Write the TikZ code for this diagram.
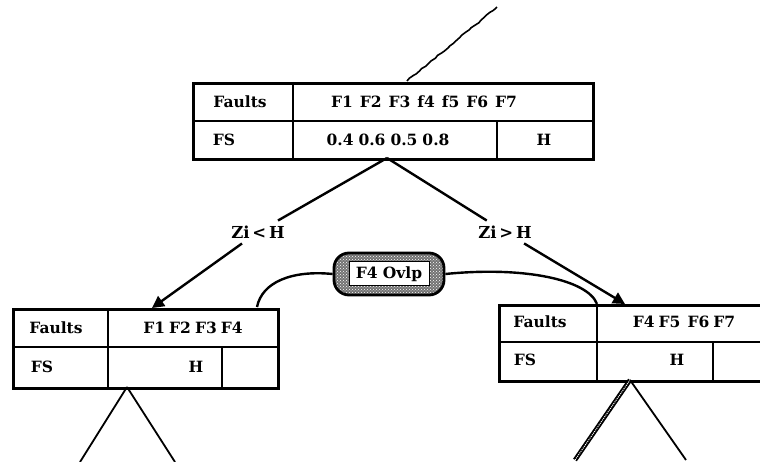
\documentclass[tikz,border=0pt]{standalone}
\usepackage{fontspec}
\setmainfont{DejaVu Serif}
\usetikzlibrary{arrows.meta,patterns,decorations.pathmorphing}
\begin{document}
\begin{tikzpicture}[x=1pt,y=-1pt,
  tbl/.style={draw, line width=2.6pt, inner sep=0pt, anchor=north west},
  div/.style={line width=1.7pt},
  txt/.style={font=\fontsize{15.5}{18}\selectfont\bfseries, inner sep=1pt},
  lbl/.style={font=\fontsize{16.5}{19}\selectfont\bfseries, inner sep=5pt},
  conn/.style={line width=2.4pt},
  leg/.style={line width=1.8pt},
  tip/.style={-{Triangle[length=12pt,width=12pt]}}]
\useasboundingbox (0,0) rectangle (760,462);

% ---- top table
\node[tbl, minimum width=400pt, minimum height=76pt] (T0) at (192,82) {};
\draw[div] (192,121) -- (592,121);
\draw[div] (293,82) -- (293,158);
\draw[div] (497,121) -- (497,158);
\node[txt] (t0a) at (240,102) {Faults};
\node[txt] (t0b) at (424,102) {F1\hspace{7pt}F2\hspace{7pt}F3\hspace{7pt}f4\hspace{7pt}f5\hspace{7pt}F6\hspace{7pt}F7};
\node[txt] (t0c) at (224,140) {FS};
\node[txt] (t0d) at (388,140) {0.4\hspace{5pt}0.6\hspace{5pt}0.5\hspace{5pt}0.8};
\node[txt] (t0e) at (544,140) {H};

% top wiggly line
\coordinate (wtop0) at (407,81);
\coordinate (wtop1) at (497,7);
\draw[line width=1.6pt, decorate, decoration={random steps, segment length=4pt, amplitude=0.7pt}] (wtop0) -- (wtop1);

% ---- left table
\node[tbl, minimum width=265pt, minimum height=79pt] (T1) at (12,308) {};
\draw[div] (12,347) -- (277,347);
\draw[div] (108,308) -- (108,387);
\draw[div] (222,347) -- (222,387);
\node[txt] (t1a) at (56,328) {Faults};
\node[txt] (t1b) at (193,328) {F1\hspace{4pt}F2\hspace{4pt}F3\hspace{4pt}F4};
\node[txt] (t1c) at (42,367) {FS};
\node[txt] (t1d) at (196,367) {H};

% ---- right table
\node[tbl, minimum width=280pt, minimum height=76pt] (T2) at (498,304) {};
\draw[div] (498,342) -- (778,342);
\draw[div] (597,304) -- (597,380);
\draw[div] (713,342) -- (713,380);
\node[txt] (t2a) at (540,322) {Faults};
\node[txt] (t2b) at (684,322) {F4\hspace{4pt}F5\hspace{7pt}F6\hspace{4pt}F7};
\node[txt] (t2c) at (525,360) {FS};
\node[txt] (t2d) at (677,360) {H};

% ---- branch labels and connectors
\coordinate (apex0) at (387,158);
\node[lbl] (zl) at (258,232) {Zi\,<\,H};
\node[lbl] (zr) at (505,232) {Zi\,>\,H};
\coordinate (arrL) at (152,308);
\coordinate (arrR) at (625,304);
\draw[conn] (apex0) -- (zl);
\draw[conn] (apex0) -- (zr);
\draw[conn, tip] (zl) -- (arrL);
\draw[conn, tip] (zr) -- (arrR);

% ---- overlap node
\node[draw, line width=2.8pt, rounded corners=15pt, minimum width=110pt, minimum height=42pt,
      preaction={fill=black!55}, pattern=crosshatch dots, pattern color=white] (ov) at (389,274) {};
\node[txt, draw, fill=white, line width=1pt, minimum width=80pt, minimum height=24pt] (ovt) at (ov.center) {F4 Ovlp};
\coordinate (cL) at (257,307);
\coordinate (cR) at (597,304);
\draw[conn] (cL) .. controls (262,282) and (292,270) .. (ov.west);
\draw[conn] (ov.east) .. controls (525,266) and (588,280) .. (cR);

% ---- lower legs
\coordinate (apexL) at (127,387);
\coordinate (legL1) at (80,462);
\coordinate (legL2) at (175,462);
\draw[leg] (apexL) -- (legL1);
\draw[leg] (apexL) -- (legL2);
\coordinate (apexR) at (630,380);
\coordinate (legR1) at (575,460);
\coordinate (legR2) at (686,460);
\draw[line width=4.5pt] (apexR) -- (legR1);
\draw[line width=1pt, white, densely dotted] (apexR) -- (legR1);
\draw[leg] (apexR) -- (legR2);
\end{tikzpicture}
\end{document}
